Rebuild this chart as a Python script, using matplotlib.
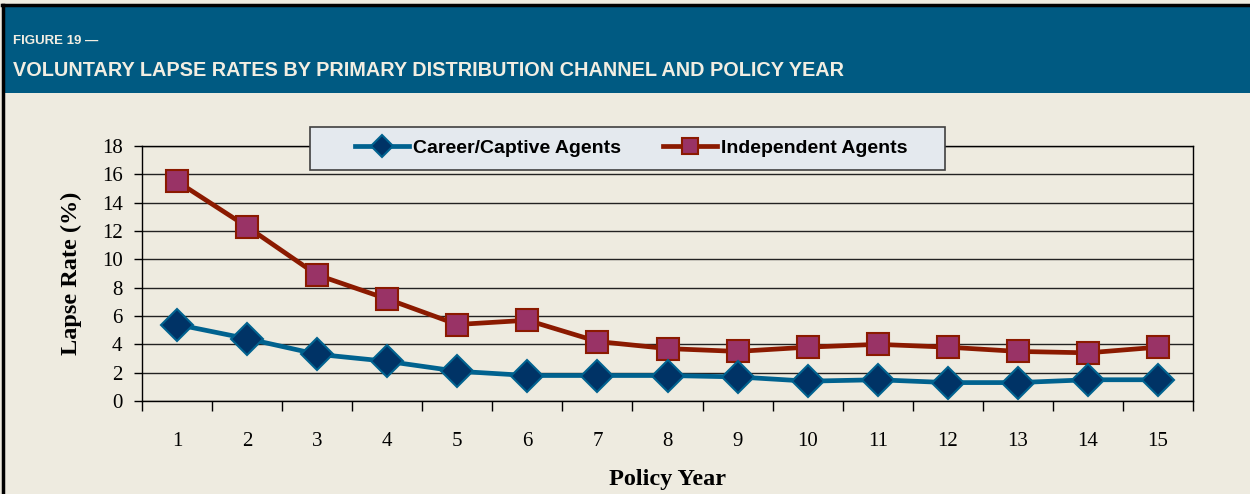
import matplotlib
matplotlib.use("Agg")
import matplotlib.pyplot as plt
from matplotlib.patches import Rectangle
from matplotlib.lines import Line2D
import numpy as np

# data
policy_year = list(range(1, 16))
career_captive = [5.4, 4.4, 3.3, 2.8, 2.1, 1.8, 1.8, 1.8, 1.7, 1.4, 1.5, 1.3, 1.3, 1.5, 1.5]
independent = [15.5, 12.3, 8.9, 7.2, 5.4, 5.7, 4.2, 3.7, 3.5, 3.8, 4.0, 3.8, 3.5, 3.4, 3.8]
y_ticks = list(range(0, 19, 2))

fig_title_small = "FIGURE 19 \u2014"
fig_title = "VOLUNTARY LAPSE RATES BY PRIMARY DISTRIBUTION CHANNEL AND POLICY YEAR"

bg = "#EEEBE0"
header_blue = "#005A82"
serif = ["Liberation Serif", "DejaVu Serif"]
sans = ["Liberation Sans", "DejaVu Sans"]

W, H = 1250, 494
fig = plt.figure(figsize=(W / 100, H / 100), dpi=100, facecolor=bg)

# header band and outer border
fig.patches.append(Rectangle((5 / W, 1 - 93 / H), 1, 86 / H, transform=fig.transFigure,
                             facecolor=header_blue, edgecolor="none", zorder=0))
fig.lines.append(Line2D([2 / W, 1], [1 - 5 / H, 1 - 5 / H], transform=fig.transFigure,
                        color="black", lw=2.5))
fig.lines.append(Line2D([3 / W, 3 / W], [0, 1 - 5 / H], transform=fig.transFigure,
                        color="black", lw=2.5))
fig.text(13 / W, 1 - 41 / H, fig_title_small, family=sans, fontweight="bold",
         fontsize=9.5, color="#F2EEE2", va="center", ha="left")
fig.text(13 / W, 1 - 70 / H, fig_title, family=sans, fontweight="bold",
         fontsize=14.3, color="#F2EEE2", va="center", ha="left")

ax = fig.add_axes([142 / W, 1 - 401 / H, (1193 - 142) / W, (401 - 146) / H])
ax.set_facecolor(bg)

ax.plot(policy_year, career_captive, color="#00628F", lw=3.4, marker="D", markersize=16,
        markerfacecolor="#003366", markeredgecolor="#00628F", markeredgewidth=1.5,
        label="Career/Captive Agents", zorder=4)
ax.plot(policy_year, independent, color="#8B1A00", lw=3.4, marker="s", markersize=16,
        markerfacecolor="#993366", markeredgecolor="#8B1A00", markeredgewidth=1.5,
        label="Independent Agents", zorder=3)

ax.set_xlim(0.5, 15.5)
ax.set_ylim(0, 18)
ax.set_yticks(y_ticks)
ax.yaxis.grid(True, color="#222222", lw=1.0)
ax.set_axisbelow(True)

ax.set_xticks(policy_year)
ax.set_xticks(np.arange(0.5, 16, 1), minor=True)
ax.tick_params(axis="x", which="major", length=0, pad=22)
ax.tick_params(axis="x", which="minor", length=7, direction="out", width=1, color="black")
ax.tick_params(axis="y", length=6, direction="out", width=1, color="black", pad=8)
for lab in ax.get_xticklabels() + ax.get_yticklabels():
    lab.set_family(serif)
    lab.set_fontsize(15)

for s in ax.spines.values():
    s.set_color("black")
    s.set_linewidth(1.0)

ax.set_xlabel("Policy Year", family=serif, fontweight="bold", fontsize=17.5, labelpad=13.5)
ax.set_ylabel("Lapse Rate (%)", family=serif, fontweight="bold", fontsize=17.5, labelpad=14)

# legend box drawn separately so its padding can match the original
fig.patches.append(Rectangle((310 / W, 1 - 170 / H), 635 / W, 43 / H, transform=fig.transFigure,
                             facecolor="#E4E9EE", edgecolor="#404040", lw=1.2, zorder=3))
leg = fig.legend(loc="center", bbox_to_anchor=(631 / W, 1 - 148.5 / H), ncol=2,
                 frameon=False, handlelength=2.8, columnspacing=2.15,
                 handletextpad=0.2, borderpad=0.3,
                 prop={"family": sans, "weight": "bold", "size": 14})
leg.set_zorder(5)
for h in leg.legend_handles:
    h.set_markersize(11)

fig.savefig("out.png", dpi=100, facecolor=bg)
